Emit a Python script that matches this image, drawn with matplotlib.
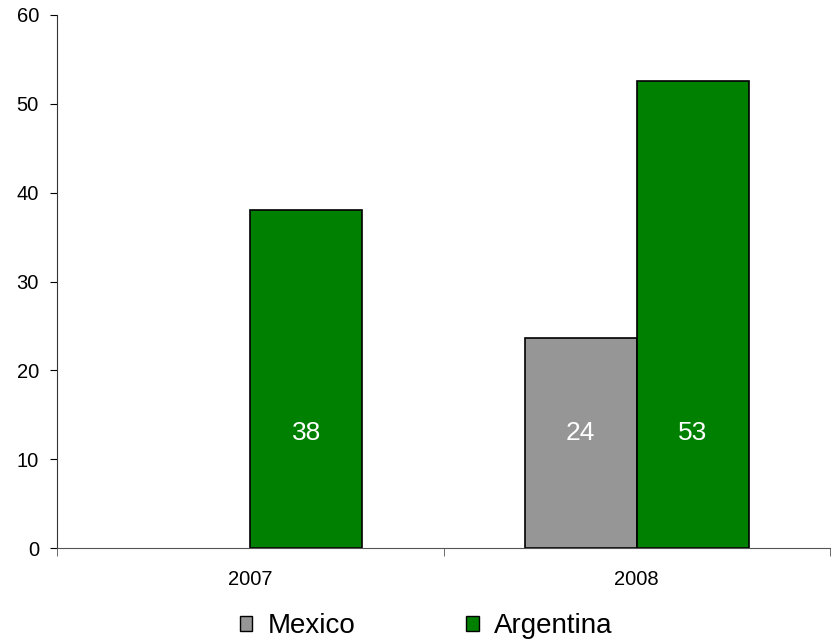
import matplotlib
matplotlib.use("Agg")
import matplotlib.pyplot as plt
import numpy as np
from matplotlib.patches import Patch

categories = ["2007", "2008"]
series_names = ["Mexico", "Argentina"]
mexico = [np.nan, 23.6]
argentina = [38.1, 52.6]
labels_mexico = ["", "24"]
labels_argentina = ["38", "53"]
colors = ["#969696", "#008000"]

plt.rcParams['font.family'] = ['Liberation Sans', 'DejaVu Sans']

fig = plt.figure(figsize=(8.36, 6.43), dpi=100)
ax = fig.add_axes([57/836, 1-548/643, (830-57)/836, (548-15)/643])

x = np.arange(len(categories))
w = 0.29
for vals, labs, col, off in [(mexico, labels_mexico, colors[0], -w/2),
                             (argentina, labels_argentina, colors[1], w/2)]:
    for xi, v, lab in zip(x, vals, labs):
        if np.isnan(v):
            continue
        ax.bar(xi + off, v, width=w, color=col, edgecolor="black", linewidth=1.2, zorder=3)
        ax.text(xi + off, 13, lab, ha="center", va="center", color="white", fontsize=19)

ax.set_xlim(-0.5, 1.5)
ax.set_ylim(0, 60)
ax.set_yticks(range(0, 61, 10))
ax.set_xticks(x)
ax.set_xticklabels(categories)
ax.set_xticks([-0.5, 0.5, 1.5], minor=True)
ax.tick_params(axis="x", which="major", length=0, pad=16, labelsize=14.5)
ax.tick_params(axis="x", which="minor", length=6, direction="out", color="#555555")
ax.tick_params(axis="y", length=5, direction="out", labelsize=14.5, pad=8)
for s in ["top", "right"]:
    ax.spines[s].set_visible(False)
ax.spines["left"].set_color("#333333")
ax.spines["bottom"].set_color("#555555")
ax.spines["left"].set_zorder(4)
ax.spines["bottom"].set_zorder(4)

handles = [Patch(facecolor=c, edgecolor="black", linewidth=1) for c in colors]
fig.legend(handles, series_names, loc="center", bbox_to_anchor=(426/836, 1-626/643),
           ncol=2, frameon=False, fontsize=20, handlelength=0.45, handleheight=0.45,
           handletextpad=0.55, columnspacing=4.0)

fig.savefig("out.png", dpi=100)
